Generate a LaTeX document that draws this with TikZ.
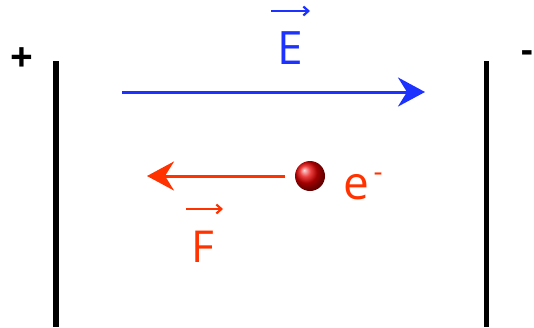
\documentclass[tikz,border=0pt]{standalone}
\usepackage{fontspec}
\setmainfont{Open Sans}
\usetikzlibrary{arrows.meta}
\definecolor{eblue}{RGB}{30,50,255}
\definecolor{fred}{RGB}{255,50,0}
\begin{document}
\begin{tikzpicture}[x=1pt,y=-1pt,
  plate/.style={line width=5.5pt},
  bigarrow/.style={line width=3pt,-{Stealth[length=27pt,width=29pt,inset=9pt]}},
  smallarrow/.style={line width=2.2pt,-{Straight Barb[length=5pt,width=9pt]}},
  lbl/.style={inner sep=0pt,anchor=center}]
\useasboundingbox (0,0) rectangle (534,327);
% plates
\coordinate (LT) at (56,61);
\coordinate (LB) at (56,327);
\coordinate (RT) at (486.5,61);
\coordinate (RB) at (486.5,327);
\draw[plate] (LT) -- (LB);
\draw[plate] (RT) -- (RB);
\node[lbl,font=\fontsize{40}{40}\selectfont\bfseries] (plus) at (22,60) {+};
\node[lbl,font=\fontsize{36}{36}\selectfont\bfseries] (minus) at (527,57) {-};
% field
\coordinate (E1) at (122,92);
\coordinate (E2) at (425,92);
\draw[eblue,bigarrow] (E1) -- (E2);
\node[lbl,eblue,font=\fontsize{46}{46}\selectfont] (E) at (290,48) {E};
\coordinate (Ea) at (271,11);
\coordinate (Eb) at (310,11);
\draw[eblue,smallarrow] (Ea) -- (Eb);
% electron
\shade[ball color=red!90!black] (310,176) circle (15);
\node[circle,minimum size=30pt,inner sep=0pt] (ball) at (310,176) {};
\coordinate (F1) at (285,176);
\coordinate (F2) at (147,176);
\draw[fred,bigarrow] (F1) -- (F2);
\node[lbl,fred,font=\fontsize{46}{46}\selectfont] (e) at (356,187) {e};
\node[lbl,fred,font=\fontsize{28}{28}\selectfont] (em) at (378,177) {-};
% force label
\node[lbl,fred,font=\fontsize{44}{44}\selectfont] (F) at (203,247) {F};
\coordinate (Fa) at (186,209);
\coordinate (Fb) at (223,209);
\draw[fred,smallarrow] (Fa) -- (Fb);
\end{tikzpicture}
\end{document}
